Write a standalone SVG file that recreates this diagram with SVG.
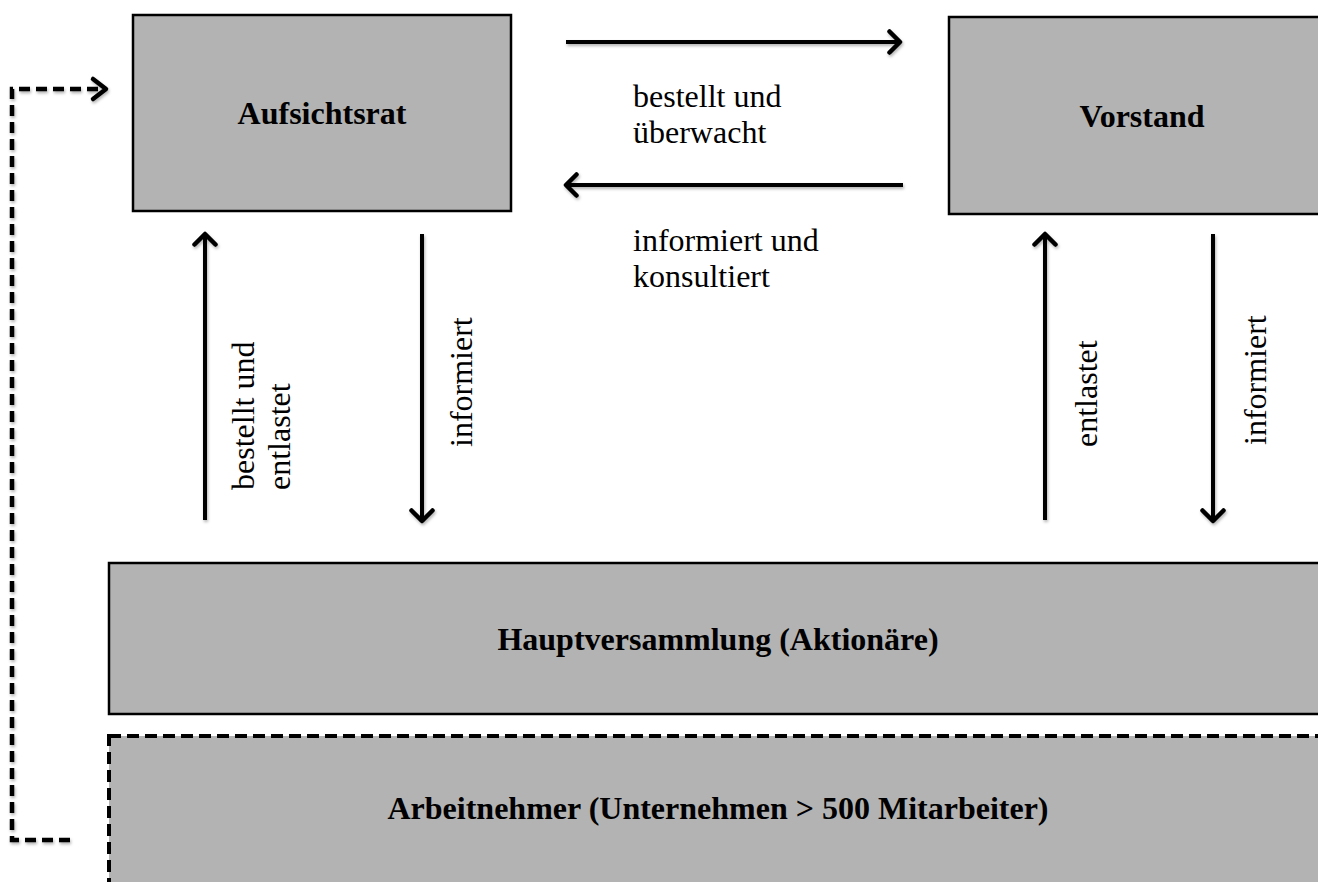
<svg xmlns="http://www.w3.org/2000/svg" width="1318" height="882" viewBox="0 0 1318 882">
<defs>
<style>
.box{fill:#b3b3b3;stroke:#000;stroke-width:2.5}
.dbox{fill:#b3b3b3;stroke:#000;stroke-width:4;stroke-dasharray:12 6}
.title{font-family:"Liberation Serif","Times New Roman",serif;font-weight:bold;font-size:32px;fill:#000;text-anchor:middle}
.lbl{font-family:"Liberation Serif","Times New Roman",serif;font-size:32px;fill:#000}
.arr{fill:none;stroke:#000;stroke-width:4;marker-end:url(#ah)}
.darr{fill:none;stroke:#000;stroke-width:4.5;stroke-dasharray:11 6}
</style>
<marker id="ah" viewBox="0 0 16 26" refX="13" refY="13" markerWidth="16" markerHeight="26" markerUnits="userSpaceOnUse" orient="auto">
<path d="M2.5,2.5 L13,13 L2.5,23.5" fill="none" stroke="#000" stroke-width="4.5" stroke-linecap="round" stroke-linejoin="round"/>
</marker>
<filter id="sh" x="-5%" y="-5%" width="110%" height="110%">
<feDropShadow dx="1" dy="2" stdDeviation="1.5" flood-color="#000" flood-opacity="0.3"/>
</filter>
</defs>

<g id="aufsichtsrat">
<rect class="box" x="133" y="15" width="378" height="196"/>
<text class="title" x="322" y="124">Aufsichtsrat</text>
</g>
<g id="vorstand">
<rect class="box" x="949" y="17" width="386" height="197"/>
<text class="title" x="1142" y="127">Vorstand</text>
</g>
<g id="hauptversammlung">
<rect class="box" x="109" y="563" width="1230" height="151"/>
<text class="title" x="718" y="650">Hauptversammlung (Aktionäre)</text>
</g>
<g id="arbeitnehmer">
<rect class="dbox" x="109" y="736" width="1230" height="170"/>
<text class="title" x="718" y="819">Arbeitnehmer (Unternehmen &gt; 500 Mitarbeiter)</text>
</g>

<g id="connectors" filter="url(#sh)">
<path class="arr" d="M566,42 L900,42"/>
<path class="arr" d="M903,185 L566,185"/>
<path class="arr" d="M205,520 L205,234"/>
<path class="arr" d="M422,234 L422,521"/>
<path class="arr" d="M1045,520 L1045,234"/>
<path class="arr" d="M1213,234 L1213,521"/>
<path class="darr" d="M70,840 L12,840 L12,89 L100,89"/>
<path d="M93,79 L106,89 L93,99" fill="none" stroke="#000" stroke-width="4.5" stroke-linecap="round" stroke-linejoin="round"/>
</g>

<g id="labels">
<text class="lbl" x="633" y="107">bestellt und</text>
<text class="lbl" x="633" y="143">überwacht</text>
<text class="lbl" x="633" y="251">informiert und</text>
<text class="lbl" x="633" y="287">konsultiert</text>
<text class="lbl" transform="translate(254,490) rotate(-90)">bestellt und</text>
<text class="lbl" transform="translate(290,490) rotate(-90)">entlastet</text>
<text class="lbl" transform="translate(472,447) rotate(-90)">informiert</text>
<text class="lbl" transform="translate(1097,447) rotate(-90)">entlastet</text>
<text class="lbl" transform="translate(1266,445) rotate(-90)">informiert</text>
</g>
</svg>
